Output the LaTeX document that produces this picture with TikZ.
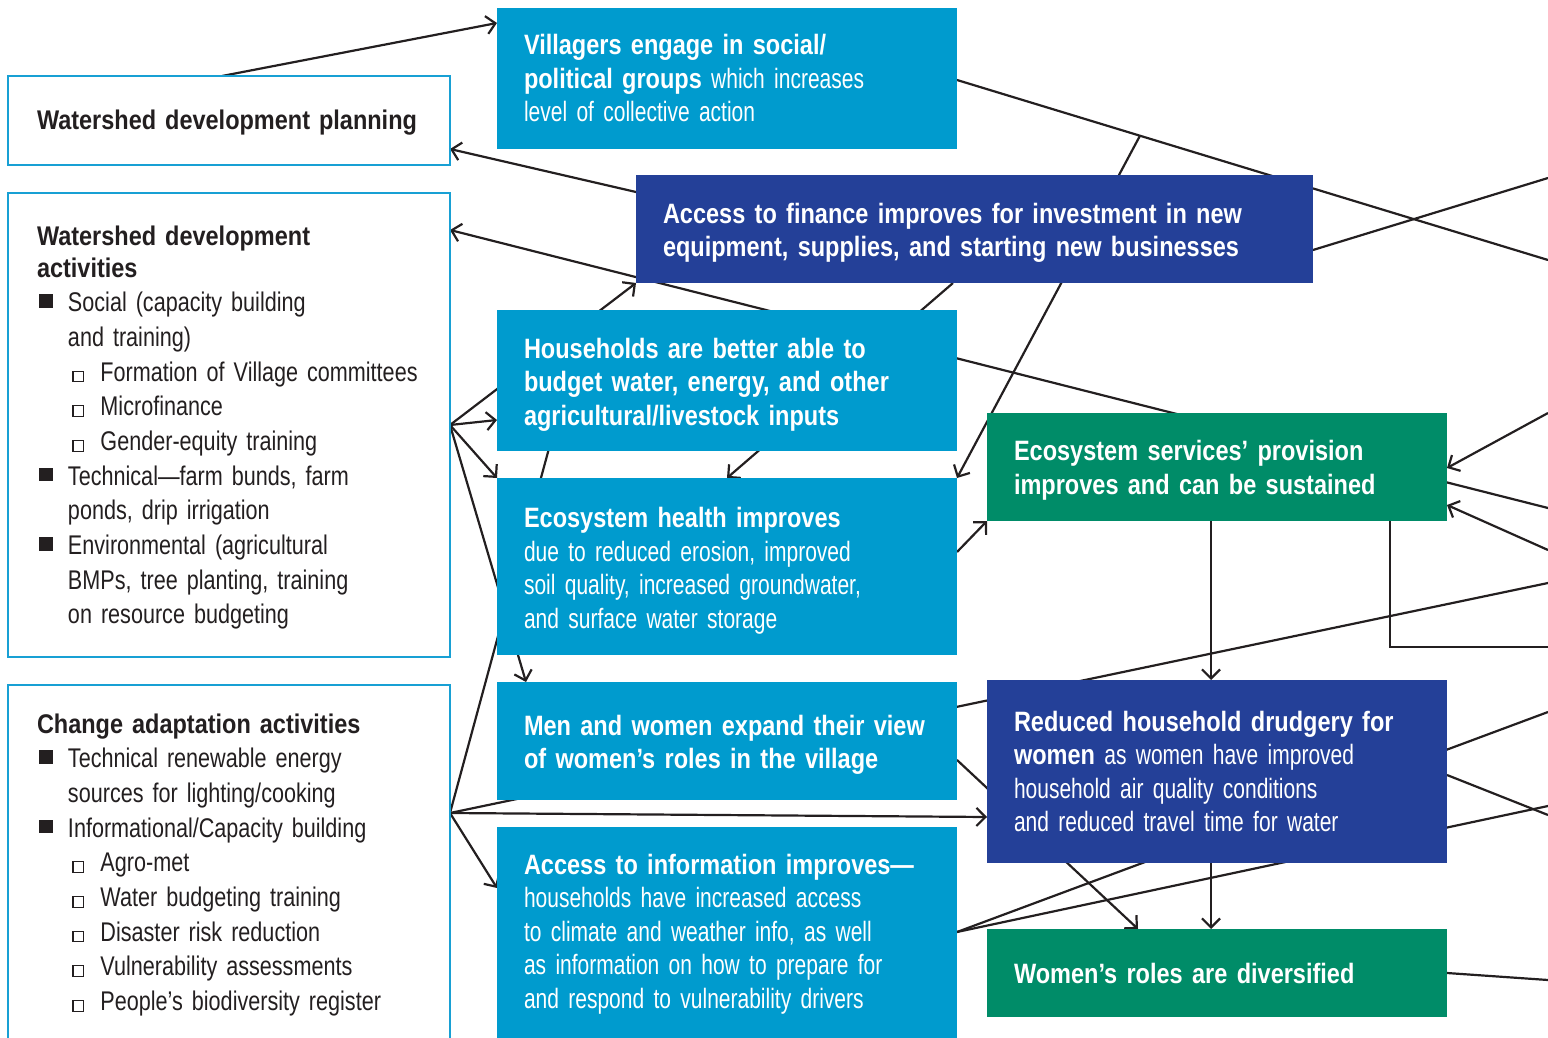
\documentclass[tikz,border=0pt]{standalone}
\usepackage{fontspec}
\setmainfont{Liberation Sans}[UprightFeatures={FakeStretch=0.75},BoldFeatures={FakeStretch=0.84}]
\newfontfamily\sidefam{Liberation Sans}[UprightFeatures={FakeStretch=0.8},BoldFeatures={FakeStretch=0.87}]
\usetikzlibrary{arrows.meta,backgrounds}

\definecolor{boxcyan}{RGB}{0,155,206}
\definecolor{boxnavy}{RGB}{36,64,152}
\definecolor{boxgreen}{RGB}{0,140,104}
\definecolor{rimblue}{RGB}{24,160,212}
\definecolor{inkgray}{RGB}{35,31,32}

% Schriften und Aufzählungszeichen
\newcommand\boxfont{\fontsize{28}{33.5}\selectfont}
\newcommand\sidefont{\sidefam\fontsize{27}{34.7}\selectfont}
\newcommand\bigsq{\makebox[31pt][l]{\hspace{2pt}\rule[4pt]{13.5pt}{13.5pt}}}
\newcommand\smallsq{\makebox[63.5pt][l]{\hspace{35.5pt}{\fboxsep=0pt\fboxrule=1.1pt\fbox{\rule{0pt}{9.5pt}\hspace{9.5pt}}}}}
\newcommand\indt{\hspace*{31pt}}

\begin{document}
\begin{tikzpicture}[x=1pt,y=-1pt,
	cbox/.style={anchor=north west, fill=#1, text=white, inner xsep=0pt, inner ysep=0pt, outer sep=0pt,
		align=left, font=\boxfont, execute at begin node={\leftskip=27pt}},
	sidebox/.style={anchor=north west, draw=rimblue, line width=2pt, fill=white, text=inkgray, text width=442pt,
		inner xsep=0pt, inner ysep=0pt, outer sep=0pt, align=left, font=\sidefont, execute at begin node={\leftskip=29pt}},
	arr/.style={draw=inkgray, line width=2.2pt, -{Straight Barb[length=9pt,width=18pt]}},
	wire/.style={draw=inkgray, line width=2.2pt}]
	\useasboundingbox (0,0) rectangle (1548,1038);
	\clip (0,0) rectangle (1548,1038);

	% Kästen links
	\node[sidebox, text height=54pt, text depth=35pt] (plan) at (8,76) {\textbf{Watershed development planning}};
	\node[sidebox, text height=52pt, text depth=412pt] (wact) at (8,193) {\textbf{Watershed development}\\[-2.7pt]
		\textbf{activities}\\
		\bigsq Social (capacity building\\
		\indt and training)\\
		\smallsq Formation of Village committees\\
		\smallsq Microfinance\\
		\smallsq Gender-equity training\\
		\bigsq Technical—farm bunds, farm\\
		\indt ponds, drip irrigation\\
		\bigsq Environmental (agricultural\\
		\indt BMPs, tree planting, training\\
		\indt on resource budgeting};
	\node[sidebox, text height=48pt, text depth=340pt] (cadapt) at (8,685) {\textbf{Change adaptation activities}\\
		\bigsq Technical renewable energy\\
		\indt sources for lighting/cooking\\
		\bigsq Informational/Capacity building\\
		\smallsq Agro-met\\
		\smallsq Water budgeting training\\
		\smallsq Disaster risk reduction\\
		\smallsq Vulnerability assessments\\
		\smallsq People’s biodiversity register};

	% Kästen Mitte
	\node[cbox=boxcyan, text width=460pt, text height=47pt, text depth=94pt] (vill) at (497,8) {\textbf{Villagers engage in social/}\\
		\textbf{political groups} which increases\\
		level of collective action};
	\node[cbox=boxnavy, text width=677pt, text height=48pt, text depth=60pt] (fin) at (636,175) {\textbf{Access to finance improves for investment in new}\\
		\textbf{equipment, supplies, and starting new businesses}};
	\node[cbox=boxcyan, text width=460pt, text height=48pt, text depth=93pt] (hh) at (497,310) {\textbf{Households are better able to}\\
		\textbf{budget water, energy, and other}\\
		\textbf{agricultural/livestock inputs}};
	\node[cbox=boxcyan, text width=460pt, text height=49.5pt, text depth=127.5pt] (eco) at (497,478) {\textbf{Ecosystem health improves}\\
		due to reduced erosion, improved\\
		soil quality, increased groundwater,\\
		and surface water storage};
	\node[cbox=boxcyan, text width=460pt, text height=53pt, text depth=65pt] (view) at (497,682) {\textbf{Men and women expand their view}\\
		\textbf{of women’s roles in the village}};
	\node[cbox=boxcyan, text width=460pt, text height=47pt, text depth=200pt] (info) at (497,827) {\textbf{Access to information improves—}\\
		households have increased access\\
		to climate and weather info, as well\\
		as information on how to prepare for\\
		and respond to vulnerability drivers};

	% Kästen rechts
	\node[cbox=boxgreen, text width=460pt, text height=47.5pt, text depth=60.5pt] (ess) at (987,413) {\textbf{Ecosystem services’ provision}\\
		\textbf{improves and can be sustained}};
	\node[cbox=boxnavy, text width=460pt, text height=51pt, text depth=132pt] (drud) at (987,680) {\textbf{Reduced household drudgery for}\\
		\textbf{women} as women have improved\\
		household air quality conditions\\
		and reduced travel time for water};
	\node[cbox=boxgreen, text width=460pt, text height=54pt, text depth=34pt] (roles) at (987,929) {\textbf{Women’s roles are diversified}};

	\begin{scope}[on background layer]
		% Enden am rechten Rand
		\coordinate (r1) at (1548,508);
		\coordinate (r2) at (1548,583);
		\coordinate (r3) at (1548,260);
		\coordinate (r4) at (1548,178);
		\coordinate (r5) at (1548,413);
		\coordinate (r6) at (1548,550);
		\coordinate (r7) at (1548,647);
		\coordinate (r8) at (1548,712);
		\coordinate (r9) at (1548,806);
		\coordinate (r10) at (1548,815);
		\coordinate (r11) at (1548,980);
		\coordinate (ab) at (1140,135.7);

		% oben
		\draw[arr] ([xshift=214pt]plan.north west) -- ([yshift=-15pt]vill.north west);
		\draw[arr] ([yshift=-17pt]fin.north west) -- ([yshift=-73pt]plan.north east);
		\draw[arr] (r1) -- ([yshift=-37pt]wact.north east);
		\draw[wire] ([yshift=-72pt]vill.north east) -- (r3);
		\draw[arr] (ab) -- (eco.north east);
		\draw[wire] ([yshift=-75pt]fin.north east) -- (r4);
		\draw[arr] ([xshift=317pt]fin.south west) -- ([xshift=230pt]eco.north west);

		% Fächer am Kasten der Aktivitäten
		\coordinate (f1) at ([yshift=-232pt]wact.north east);
		\draw[arr] (f1) -- (fin.south west);
		\draw[arr] (f1) -- ([yshift=-110pt]hh.north west);
		\draw[arr] (f1) -- (eco.north west);
		\draw[arr] (f1) -- ([xshift=29pt]view.north west);

		% Fächer am Kasten der Anpassung
		\coordinate (f2) at ([yshift=-128pt]cadapt.north east);
		\draw[wire] (f2) -- ([xshift=54pt,yshift=10pt]hh.south west);
		\draw[wire] (f2) -- (r2);
		\draw[arr] (f2) -- ([yshift=-137pt]drud.north west);
		\draw[arr] (f2) -- ([yshift=-61pt]info.north west);

		% Ökosystemleistungen
		\draw[arr] ([yshift=-74pt]eco.north east) -- (ess.south west);
		\draw[arr] (r5) -- ([yshift=-55pt]ess.north east);
		\draw[arr] (r6) -- ([yshift=-92pt]ess.north east);
		\draw[wire] (r7) -| ([xshift=403pt]ess.south west);
		\draw[arr] ([xshift=224pt]ess.south west) -- ([xshift=224pt]drud.north west);

		% unten
		\draw[arr] ([xshift=224pt]drud.south west) -- ([xshift=224pt]roles.north west);
		\draw[arr] ([yshift=-78pt]view.north east) -- ([xshift=151pt]roles.north west);
		\draw[wire] ([yshift=-105pt]info.north east) -- (r8);
		\draw[wire] ([yshift=-105pt]info.north east) -- (r9);
		\draw[wire] ([yshift=-95pt]drud.north east) -- (r10);
		\draw[wire] ([yshift=-44pt]roles.north east) -- (r11);
	\end{scope}
\end{tikzpicture}
\end{document}
